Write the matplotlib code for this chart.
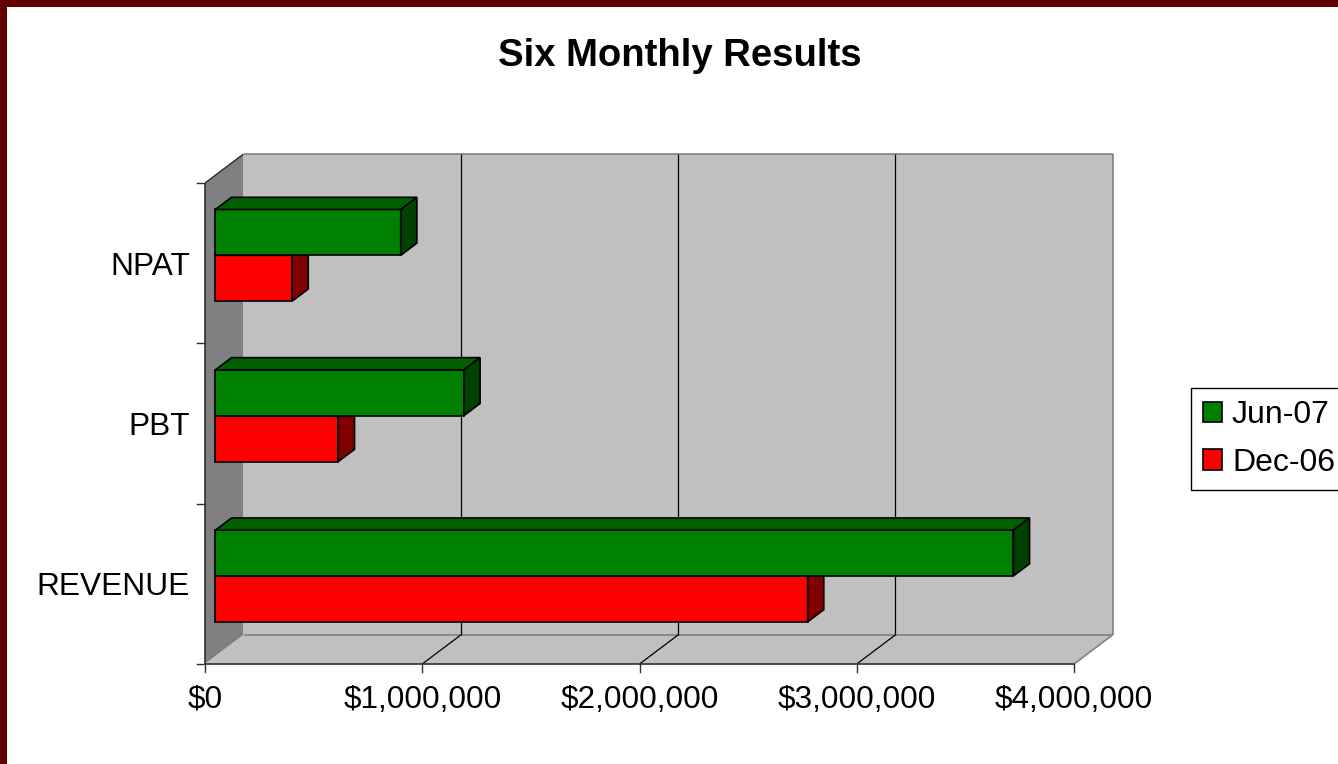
import matplotlib
matplotlib.use("Agg")
import matplotlib.pyplot as plt
from matplotlib.patches import Polygon, Rectangle, Patch

plt.rcParams['font.family'] = ['Liberation Sans', 'DejaVu Sans']

# Data
categories = ['REVENUE', 'PBT', 'NPAT']
jun07 = [3673000, 1144000, 853000]
dec06 = [2726000, 566000, 353000]
series_names = ['Jun-07', 'Dec-06']
xticks = [0, 1000000, 2000000, 3000000, 4000000]
xtick_labels = ['$0', '$1,000,000', '$2,000,000', '$3,000,000', '$4,000,000']

W, H = 1338, 764
fig = plt.figure(figsize=(W / 100, H / 100), dpi=100)
fig.patch.set_facecolor('white')

# axes = the front plane of the 3D box
ax = fig.add_axes([205 / W, (H - 664) / H, 869 / W, 481 / H])
XMAX = 4e6
ax.set_xlim(0, XMAX)
ax.set_ylim(0, len(categories))
ax.axis('off')

# depth vector in data units (38.5 px right, 29 px up)
DX = 38.5 / 869 * XMAX
DY = 29 / 481 * len(categories)


def proj(v, c, d):
    return (v + d * DX, c + d * DY)


def face(pts, fc, ec, lw=1.0, z=1):
    ax.add_patch(Polygon([proj(*p) for p in pts], closed=True, facecolor=fc,
                         edgecolor=ec, linewidth=lw, clip_on=False, zorder=z))


def line(p0, p1, color, lw=1.0, z=2):
    a, b = proj(*p0), proj(*p1)
    ax.plot([a[0], b[0]], [a[1], b[1]], color=color, lw=lw, clip_on=False,
            zorder=z, solid_capstyle='butt')


ncat = len(categories)
# walls
face([(0, 0, 0), (0, ncat, 0), (0, ncat, 1), (0, 0, 1)], '#808080', 'none')
face([(0, 0, 0), (XMAX, 0, 0), (XMAX, 0, 1), (0, 0, 1)], '#c0c0c0', 'none')
face([(0, 0, 1), (XMAX, 0, 1), (XMAX, ncat, 1), (0, ncat, 1)], '#c0c0c0', 'none')
line((0, ncat, 1), (XMAX, ncat, 1), '#808080', 1.2)
line((XMAX, ncat, 1), (XMAX, 0, 1), '#808080', 1.2)
line((0, 0, 1), (XMAX, 0, 1), '#808080', 1.2)
line((XMAX, 0, 1), (XMAX, 0, 0), '#808080', 1.2)
line((0, ncat, 0), (0, ncat, 1), '#202020', 0.9)

# gridlines on back wall and floor
for v in xticks[1:-1]:
    line((v, 0, 1), (v, ncat, 1), 'black', 0.9)
    line((v, 0, 0), (v, 0, 1), 'black', 0.9)

# axis lines and ticks
line((0, 0, 0), (0, ncat, 0), '#303030', 1.2, z=3)
line((0, 0, 0), (XMAX, 0, 0), '#303030', 1.2, z=3)
tick_y = 8 / 481 * ncat
tick_x = 8 / 869 * XMAX
for v in xticks:
    ax.plot([v, v], [0, -tick_y], color='#303030', lw=1.0, clip_on=False)
for c in range(ncat + 1):
    ax.plot([0, -tick_x], [c, c], color='#303030', lw=1.0, clip_on=False)

# bars as 3D boxes
d0, d1 = 0.27, 0.69
bw = 0.286


def box(v, c0, c1, front, top, side):
    face([(0, c0, d0), (v, c0, d0), (v, c1, d0), (0, c1, d0)], front, 'black', 1.2, 4)
    face([(0, c1, d0), (v, c1, d0), (v, c1, d1), (0, c1, d1)], top, 'black', 1.2, 4)
    face([(v, c0, d0), (v, c0, d1), (v, c1, d1), (v, c1, d0)], side, 'black', 1.2, 4)


for i, cat in enumerate(categories):
    mid = i + 0.5
    box(dec06[i], mid - bw, mid, '#ff0000', '#c00000', '#800000')
    box(jun07[i], mid, mid + bw, '#008000', '#006000', '#004000')

# labels
for i, cat in enumerate(categories):
    ax.text(-15 / 869 * XMAX, i + 0.5 - 11.5 / 481 * ncat, cat, ha='right',
            va='baseline', fontsize=22.8)
for v, lab in zip(xticks, xtick_labels):
    ax.text(v, -36 / 481 * ncat, lab, ha='center', va='center', fontsize=22.7)

fig.text(680 / W, 1 - 56 / H, 'Six Monthly Results', ha='center', va='center',
         fontsize=27.5, fontweight='bold')

handles = [Patch(facecolor='#008000', edgecolor='black', linewidth=1.2),
           Patch(facecolor='#ff0000', edgecolor='black', linewidth=1.2)]
leg = fig.legend(handles, series_names, loc='upper left',
                 bbox_to_anchor=(1191 / W, 1 - 388 / H), borderaxespad=0,
                 fontsize=23, handlelength=0.6, handleheight=0.6,
                 handletextpad=0.3, labelspacing=0.55, borderpad=0.38,
                 fancybox=False, framealpha=1)
leg.get_frame().set_edgecolor('black')
leg.get_frame().set_linewidth(1.0)

# dark red border on top and left
fig.patches.append(Rectangle((0, 1 - 7 / H), 1, 7 / H, transform=fig.transFigure,
                             facecolor='#600000', edgecolor='none', zorder=10))
fig.patches.append(Rectangle((0, 0), 7 / W, 1, transform=fig.transFigure,
                             facecolor='#600000', edgecolor='none', zorder=10))

fig.savefig('out.png', dpi=100)
